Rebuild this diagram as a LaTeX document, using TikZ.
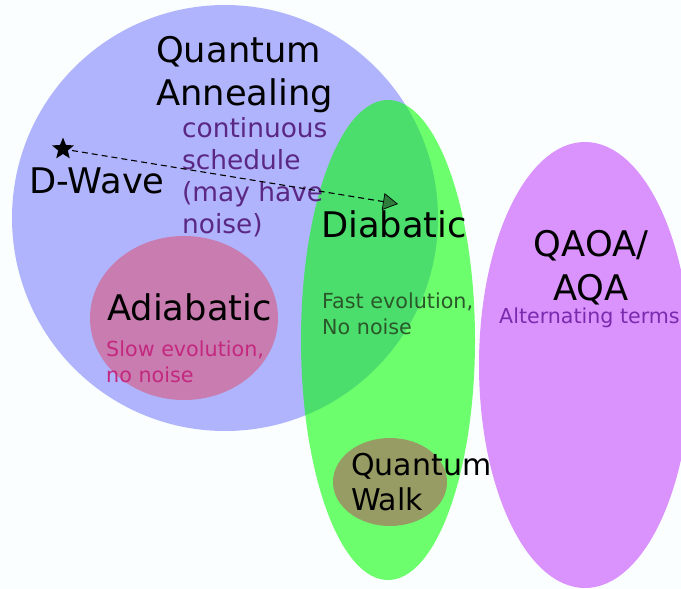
\documentclass[tikz,border=0pt]{standalone}
\usepackage{fontspec}
\setmainfont{DejaVu Sans}
\usetikzlibrary{shapes.geometric,arrows.meta}
\definecolor{bgc}{RGB}{251,254,254}
\definecolor{qablue}{RGB}{176,180,252}
\definecolor{adpink}{RGB}{200,124,176}
\definecolor{qwolive}{RGB}{150,156,100}
\definecolor{qaoapurple}{RGB}{218,146,252}
\definecolor{txtpurple}{RGB}{90,40,130}
\definecolor{txtgreen}{RGB}{42,88,42}
\definecolor{txtpink}{RGB}{196,40,126}
\definecolor{txtviolet}{RGB}{122,42,174}
\definecolor{arrowgreen}{RGB}{46,125,58}
\tikzset{
  big/.style={anchor=base west, inner sep=0pt, font=\fontsize{35.3}{40}\selectfont, text=black},
  mid/.style={anchor=base west, inner sep=0pt, font=\fontsize{26.4}{30}\selectfont},
  small/.style={anchor=base west, inner sep=0pt, font=\fontsize{20.7}{24}\selectfont},
}
\begin{document}
\begin{tikzpicture}[x=1pt,y=-1pt]
\fill[bgc] (0,0) rectangle (681,589);
\useasboundingbox (0,0) rectangle (681,589);
\clip (0,0) rectangle (681,589);
% regions
\fill[qablue] (225,218) circle (213);
\fill[adpink] (184,318) ellipse [x radius=94, y radius=82];
\fill[green, fill opacity=0.57] (388,340) ellipse [x radius=87, y radius=240];
\fill[qwolive] (390,482) ellipse [x radius=57, y radius=44];
\fill[qaoapurple] (585,365) ellipse [x radius=106, y radius=223];
% Quantum Annealing
\node[big] (qa1) at (156,63) {Quantum};
\node[big] (qa2) at (156,105) {Annealing};
\node[mid, text=txtpurple] (cs1) at (182,137) {continuous};
\node[mid, text=txtpurple] (cs2) at (182,169) {schedule};
\node[mid, text=txtpurple] (cs3) at (182,201) {(may have};
\node[mid, text=txtpurple] (cs4) at (182,233) {noise)};
% D-Wave
\node[big] (dw) at (29,193) {D-Wave};
\node[star, star points=5, star point ratio=2.3, fill=black, inner sep=0pt, minimum size=23pt] (st) at (63,149) {};
\coordinate (tip) at (398,204);
\draw[dashed, dash pattern=on 6pt off 4pt, line width=1.1pt,
  -{Triangle[length=15pt,width=17pt,fill=arrowgreen,line width=0.7pt]}, draw=black]
  (st.center) ++(9,1.5) -- (tip);
% Diabatic
\node[big] (di) at (321,237) {Diabatic};
\node[small, text=txtgreen] (fe1) at (322,308) {Fast evolution,};
\node[small, text=txtgreen] (fe2) at (322,334) {No noise};
% Adiabatic
\node[big] (ad) at (107,320) {Adiabatic};
\node[small, text=txtpink] (se1) at (106,356) {Slow evolution,};
\node[small, text=txtpink] (se2) at (106,382) {no noise};
% QAOA
\node[anchor=base, inner sep=0pt, font=\fontsize{35.3}{40}\selectfont] (qo1) at (591,256) {QAOA/};
\node[anchor=base, inner sep=0pt, font=\fontsize{35.3}{40}\selectfont] (qo2) at (591,300) {AQA};
\node[small, font=\fontsize{20.6}{24}\selectfont, text=txtviolet] (alt) at (499,323) {Alternating terms};
% Quantum Walk
\node[anchor=base west, inner sep=0pt, font=\fontsize{30}{35}\selectfont] (qw1) at (351,475) {Quantum};
\node[anchor=base west, inner sep=0pt, font=\fontsize{30}{35}\selectfont] (qw2) at (351,510) {Walk};
\end{tikzpicture}
\end{document}
